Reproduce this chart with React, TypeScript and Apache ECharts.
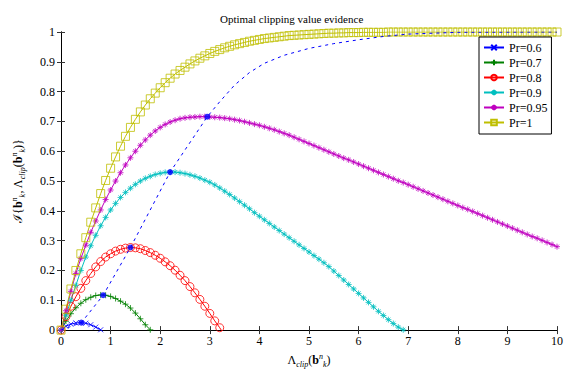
import React, { useEffect, useRef } from "react";
import * as echarts from "echarts";

const FONT = "Liberation Serif";

const chartTitle = "Optimal clipping value evidence";
const legendNames = ["Pr=0.6", "Pr=0.7", "Pr=0.8", "Pr=0.9", "Pr=0.95", "Pr=1"];
const xTicks = [0, 1, 2, 3, 4, 5, 6, 7, 8, 9, 10];

// clipping values sampled by the curves
const lambdaGrid = [
  0, 0.1, 0.2, 0.3, 0.4, 0.5, 0.6, 0.7, 0.8, 0.9,
  1.0, 1.1, 1.2, 1.3, 1.4, 1.5, 1.6, 1.7, 1.8, 1.9,
  2.0, 2.1, 2.2, 2.3, 2.4, 2.5, 2.6, 2.7, 2.8, 2.9,
  3.0, 3.1, 3.2, 3.3, 3.4, 3.5, 3.6, 3.7, 3.8, 3.9,
  4.0, 4.1, 4.2, 4.3, 4.4, 4.5, 4.6, 4.7, 4.8, 4.9,
  5.0, 5.1, 5.2, 5.3, 5.4, 5.5, 5.6, 5.7, 5.8, 5.9,
  6.0, 6.1, 6.2, 6.3, 6.4, 6.5, 6.6, 6.7, 6.8, 6.9,
  7.0, 7.1, 7.2, 7.3, 7.4, 7.5, 7.6, 7.7, 7.8, 7.9,
  8.0, 8.1, 8.2, 8.3, 8.4, 8.5, 8.6, 8.7, 8.8, 8.9,
  9.0, 9.1, 9.2, 9.3, 9.4, 9.5, 9.6, 9.7, 9.8, 9.9,
  10.0,
];

const pr06 = [0, 0.013, 0.02, 0.024, 0.025, 0.023, 0.018, 0.01, 0.001, -0.011];

const pr07 = [
  0, 0.03, 0.055, 0.075, 0.09, 0.102, 0.11, 0.116, 0.118, 0.117,
  0.113, 0.106, 0.097, 0.087, 0.074, 0.057, 0.038, 0.018, 0.001, -0.02,
];

const pr08 = [
  0, 0.045, 0.08, 0.112, 0.14, 0.166, 0.19, 0.212, 0.23, 0.245,
  0.256, 0.265, 0.271, 0.275, 0.277, 0.276, 0.273, 0.267, 0.26, 0.251,
  0.241, 0.229, 0.216, 0.201, 0.184, 0.166, 0.146, 0.125, 0.103, 0.08,
  0.056, 0.031, 0.008, -0.018,
];

const pr09 = [
  0, 0.05, 0.1, 0.15, 0.2, 0.245, 0.283, 0.318, 0.35, 0.378,
  0.403, 0.425, 0.445, 0.462, 0.476, 0.489, 0.5, 0.509, 0.516, 0.522,
  0.526, 0.529, 0.53, 0.53, 0.528, 0.525, 0.521, 0.516, 0.51, 0.503,
  0.496, 0.487, 0.477, 0.466, 0.455, 0.443, 0.431, 0.419, 0.407, 0.394,
  0.382, 0.37, 0.358, 0.346, 0.334, 0.322, 0.31, 0.298, 0.286, 0.274,
  0.262, 0.25, 0.238, 0.226, 0.213, 0.198, 0.183, 0.168, 0.153, 0.138,
  0.123, 0.108, 0.093, 0.078, 0.063, 0.049, 0.035, 0.022, 0.01, 0.001,
  -0.012,
];

const pr095 = [
  0, 0.065, 0.13, 0.19, 0.24, 0.285, 0.328, 0.366, 0.403, 0.438,
  0.47, 0.5, 0.528, 0.554, 0.578, 0.6, 0.62, 0.638, 0.654, 0.668,
  0.68, 0.69, 0.698, 0.704, 0.709, 0.712, 0.714, 0.715, 0.716, 0.716,
  0.715, 0.714, 0.713, 0.711, 0.709, 0.706, 0.703, 0.699, 0.695, 0.691,
  0.687, 0.682, 0.677, 0.672, 0.666, 0.66, 0.654, 0.647, 0.64, 0.633,
  0.626, 0.619, 0.612, 0.605, 0.598, 0.591, 0.584, 0.577, 0.571, 0.564,
  0.557, 0.55, 0.543, 0.536, 0.529, 0.522, 0.515, 0.508, 0.501, 0.495,
  0.488, 0.481, 0.474, 0.467, 0.46, 0.453, 0.446, 0.439, 0.432, 0.425,
  0.418, 0.411, 0.405, 0.398, 0.391, 0.384, 0.377, 0.37, 0.363, 0.356,
  0.349, 0.342, 0.335, 0.328, 0.321, 0.314, 0.308, 0.301, 0.294, 0.287,
  0.28,
];

const pr1 = [
  0, 0.07, 0.138, 0.2, 0.256, 0.31, 0.362, 0.41, 0.458, 0.502,
  0.543, 0.581, 0.617, 0.65, 0.68, 0.707, 0.732, 0.755, 0.776, 0.795,
  0.813, 0.83, 0.845, 0.859, 0.871, 0.882, 0.893, 0.903, 0.912, 0.92,
  0.928, 0.935, 0.941, 0.947, 0.952, 0.957, 0.961, 0.965, 0.969, 0.972,
  0.975, 0.978, 0.98, 0.982, 0.984, 0.986, 0.988, 0.989, 0.99, 0.991,
  0.992, 0.993, 0.994, 0.995, 0.996, 0.996, 0.997, 0.997, 0.998, 0.998,
  0.998, 0.999, 0.999, 0.999, 0.999, 0.999, 1, 1, 1, 1,
  1, 1, 1, 1, 1, 1, 1, 1, 1, 1,
  1, 1, 1, 1, 1, 1, 1, 1, 1, 1,
  1, 1, 1, 1, 1, 1, 1, 1, 1, 1,
  1,
];

// optimal clipping value locus (dashed) and its marked maxima
const optX = [0, 0.41, 0.85, 1.4, 2.2, 2.95, 3.2, 3.5, 3.8, 4.1, 4.5, 5.0, 5.5, 6.0, 6.5, 7.0, 8.0, 10];
const optY = [0, 0.025, 0.117, 0.277, 0.53, 0.716, 0.766, 0.822, 0.864, 0.895, 0.922, 0.945, 0.961, 0.974, 0.985, 0.993, 0.999, 1];
const peakX = [0.41, 0.85, 1.4, 2.2, 2.95];
const peakY = [0.025, 0.117, 0.277, 0.53, 0.716];

const X_SYM = "path://M0,0L10,10M10,0L0,10";
const PLUS_SYM = "path://M5,0L5,10M0,5L10,5";
const STAR_SYM = "path://M5,0L5,10M0,5L10,5M1.6,1.6L8.4,8.4M8.4,1.6L1.6,8.4";

function curve(name: string, ys: number[], color: string, symbol: string, size: number) {
  return {
    name,
    type: "line",
    data: ys.map((y, i) => [lambdaGrid[i], y]),
    symbol,
    symbolSize: size,
    showAllSymbol: true,
    clip: true,
    silent: true,
    lineStyle: { color, width: 1 },
    itemStyle: { color: "none", borderColor: color, borderWidth: 0.8 },
    emphasis: { disabled: true },
    z: 2,
  };
}

const rich = {
  bf: { fontWeight: "bold", fontFamily: FONT, fontSize: 12, lineHeight: 16 },
  it: { fontStyle: "italic", fontFamily: FONT, fontSize: 12, lineHeight: 16 },
  sup: { fontStyle: "italic", fontFamily: FONT, fontSize: 8, lineHeight: 16, verticalAlign: "top" },
  sub: { fontStyle: "italic", fontFamily: FONT, fontSize: 8, lineHeight: 16, verticalAlign: "bottom" },
};

export default function App() {
  const ref = useRef<HTMLDivElement>(null);
  useEffect(() => {
    if (!ref.current) return;
    const chart = echarts.init(ref.current, null, { renderer: "svg" });
    const axisCommon = {
      axisLine: { show: true, lineStyle: { color: "#000", width: 1 } },
      axisTick: { show: true, inside: true, length: 4, lineStyle: { color: "#333" } },
      splitLine: { show: false },
    };
    chart.setOption({
      animation: false,
      backgroundColor: "#fff",
      textStyle: { fontFamily: FONT },
      title: {
        text: chartTitle,
        left: 215,
        top: 8,
        textStyle: { fontFamily: FONT, fontSize: 11, fontWeight: "normal", color: "#000" },
      },
      legend: {
        data: legendNames,
        orient: "vertical",
        left: 479,
        top: 37,
        padding: [3, 4, 4, 4],
        itemWidth: 20,
        itemHeight: 7,
        itemGap: 0,
        borderColor: "#000",
        borderWidth: 1,
        backgroundColor: "#fff",
        selectedMode: false,
        textStyle: { fontFamily: FONT, fontSize: 12, color: "#000", lineHeight: 15 },
      },
      grid: { left: 61, right: 8, top: 32, bottom: 40, containLabel: false },
      xAxis: [
        {
          type: "value",
          min: 0,
          max: 10,
          interval: 1,
          position: "bottom",
          ...axisCommon,
          axisLabel: {
            margin: 5,
            fontFamily: FONT,
            fontSize: 12,
            color: "#000",
            formatter: (v: number) => (xTicks.includes(v) ? String(v) : ""),
          },
          name: "Λ{sub|clip}({bf|b}{sup|n}{sub|k})",
          nameLocation: "middle",
          nameGap: 18,
          nameTextStyle: { fontFamily: FONT, fontSize: 12, color: "#000", lineHeight: 16, rich },
        },
        {
          type: "value",
          min: 0,
          max: 10,
          interval: 1,
          position: "top",
          ...axisCommon,
          axisLabel: { show: false },
        },
      ],
      yAxis: [
        {
          type: "value",
          min: 0,
          max: 1,
          interval: 0.1,
          position: "left",
          ...axisCommon,
          axisLabel: {
            margin: 6,
            fontFamily: FONT,
            fontSize: 12,
            color: "#000",
            formatter: (v: number) => String(Math.round(v * 10) / 10),
          },
          name: "ℐ{{bf|b}{sup|n}{sub|k}, Λ{sub|clip}({bf|b}{sup|n}{sub|k})}",
          nameLocation: "middle",
          nameRotate: 90,
          nameGap: 35,
          nameTextStyle: { fontFamily: FONT, fontSize: 12, color: "#000", lineHeight: 16, rich },
        },
        {
          type: "value",
          min: 0,
          max: 1,
          interval: 0.1,
          position: "right",
          ...axisCommon,
          axisLabel: { show: false },
        },
      ],
      series: [
        curve(legendNames[0], pr06, "#0000ff", X_SYM, 5),
        curve(legendNames[1], pr07, "#008000", PLUS_SYM, 6),
        curve(legendNames[2], pr08, "#ff0000", "circle", 8),
        curve(legendNames[3], pr09, "#00bfbf", STAR_SYM, 6),
        curve(legendNames[4], pr095, "#bf00bf", STAR_SYM, 6),
        curve(legendNames[5], pr1, "#bfbf00", "rect", 8),
        {
          name: "optimum",
          type: "line",
          data: optX.map((x, i) => [x, optY[i]]),
          symbol: "none",
          silent: true,
          lineStyle: { color: "#0000ff", width: 1, type: [3, 4] },
          z: 3,
        },
        {
          name: "maxima",
          type: "scatter",
          data: peakX.map((x, i) => [x, peakY[i]]),
          symbol: "circle",
          symbolSize: 6,
          silent: true,
          itemStyle: { color: "#0000ff" },
          z: 4,
        },
      ],
    });
    return () => chart.dispose();
  }, []);
  return (
    <div
      ref={ref}
      style={{ position: "fixed", left: 0, top: 0, width: 566, height: 373, background: "#fff" }}
    />
  );
}
